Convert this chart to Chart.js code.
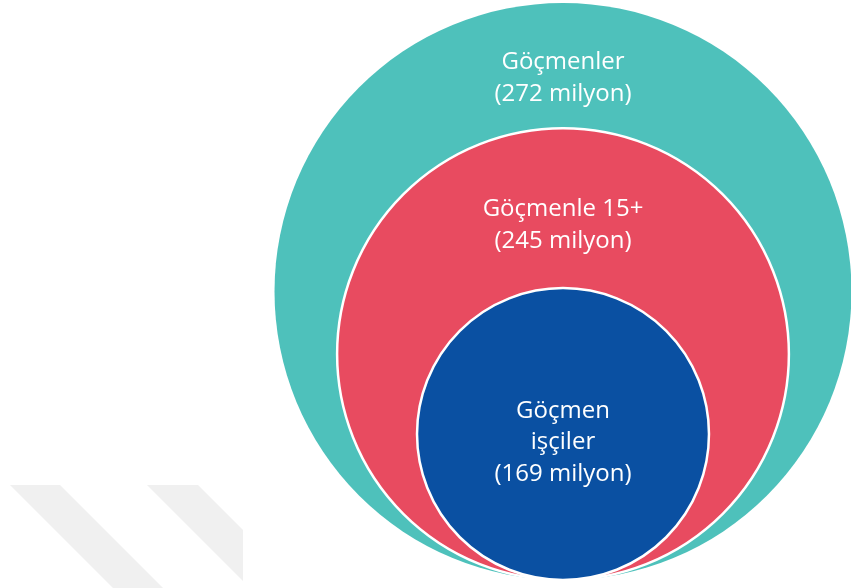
<!DOCTYPE html>
<html>
<head>
<meta charset="utf-8">
<script src="https://cdn.jsdelivr.net/npm/chart.js@4"></script>
<style>
    html, body { margin: 0; padding: 0; background: #fff; }
    #wrap { width: 851px; height: 588px; position: relative; }
</style>
</head>
<body>
<div id="wrap"><canvas id="circles"></canvas></div>
<script>
// data
const labelLines = [['Göçmenler'], ['Göçmenle 15+'], ['Göçmen', 'işçiler']]
const values = [272, 245, 169]
const unit = 'milyon'

// styling: relative radius of each circle and where its text starts
const ringScale = [1, 0.783, 0.506]
const textStart = [0.23, 0.39, 0.89]
const colors = ['#4ec1bb', '#e84b60', '#0a50a2']

// faint diagonal stripes in the lower left corner
const stripesPlugin = {
    id: 'stripes',
    beforeDraw(chart) {
        let ctx = chart.ctx
        ctx.save()
        ctx.fillStyle = '#f0f0f0'
        ctx.beginPath()
        ctx.moveTo(10, 485)
        ctx.lineTo(60, 485)
        ctx.lineTo(163, 588)
        ctx.lineTo(113, 588)
        ctx.closePath()
        ctx.fill()
        ctx.beginPath()
        ctx.rect(0, 0, 243, 588)
        ctx.clip()
        ctx.beginPath()
        ctx.moveTo(147, 485)
        ctx.lineTo(198, 485)
        ctx.lineTo(301, 588)
        ctx.lineTo(250, 588)
        ctx.closePath()
        ctx.fill()
        ctx.restore()
    }
}

const labelPlugin = {
    id: 'circleLabels',
    afterDatasetsDraw(chart) {
        let ctx = chart.ctx
        let meta = chart.getDatasetMeta(0)
        ctx.save()
        ctx.fillStyle = '#ffffff'
        ctx.font = '24px "Open Sans"'
        ctx.textAlign = 'center'
        ctx.textBaseline = 'alphabetic'
        meta.data.forEach((el, i) => {
            let r = el.options.radius
            let lines = labelLines[i].concat(['(' + values[i] + ' ' + unit + ')'])
            let y = el.y - r + textStart[i] * r
            lines.forEach((line, j) => {
                ctx.fillText(line, el.x, y + j * 31.5)
            })
        })
        ctx.restore()
    }
}

function circleRadius(c) {
    let area = c.chart.chartArea
    if (!area) return 0
    return area.height / 2 * ringScale[c.dataIndex]
}

new Chart(document.getElementById('circles'), {
    type: 'scatter',
    data: {
        labels: labelLines.map(l => l.join(' ')),
        datasets: [{
            data: ringScale.map(f => ({ x: 0, y: f / 2 })),
            pointBackgroundColor: colors,
            pointBorderColor: '#ffffff',
            pointBorderWidth: [0, 2.5, 2.5],
            pointRadius: circleRadius,
            showLine: false,
            clip: false
        }]
    },
    options: {
        responsive: true,
        maintainAspectRatio: false,
        animation: false,
        events: [],
        layout: { padding: { left: 276, right: 1, top: 3, bottom: 8 } },
        plugins: {
            legend: { display: false },
            tooltip: { enabled: false }
        },
        scales: {
            x: { display: false, min: -1, max: 1 },
            y: { display: false, min: 0, max: 1 }
        }
    },
    plugins: [stripesPlugin, labelPlugin]
})
</script>
</body>
</html>
